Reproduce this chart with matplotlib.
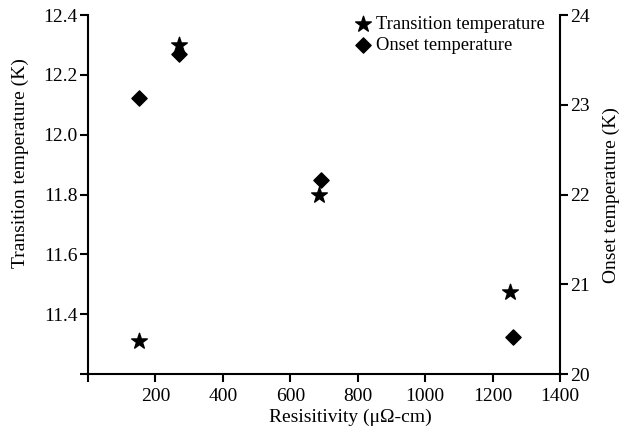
import matplotlib.pyplot as plt

plt.rcParams['font.family'] = ['Liberation Serif', 'DejaVu Serif']

# data
resist_tr = [150, 270, 685, 1250]
trans_temp = [11.31, 12.30, 11.80, 11.475]
resist_on = [150, 270, 690, 1260]
onset_temp = [23.08, 23.57, 22.16, 20.41]

x_ticks = [0, 200, 400, 600, 800, 1000, 1200, 1400]
x_labels = ['', '200', '400', '600', '800', '1000', '1200', '1400']
left_ticks = [11.2, 11.4, 11.6, 11.8, 12.0, 12.2, 12.4]
left_labels = ['', '11.4', '11.6', '11.8', '12.0', '12.2', '12.4']
right_ticks = [20, 21, 22, 23, 24]

fig = plt.figure(figsize=(6.19, 4.32), dpi=100)
ax = fig.add_axes([0.142, 0.134, 0.763, 0.831])
ax2 = ax.twinx()

s1 = ax.scatter(resist_tr, trans_temp, marker='*', s=140, color='black',
                label='Transition temperature', zorder=3)
s2 = ax2.scatter(resist_on, onset_temp, marker='D', s=60, color='black',
                 label='Onset temperature', zorder=3)

ax.set_xlim(0, 1400)
ax.set_ylim(11.2, 12.4)
ax2.set_ylim(20, 24)

ax.set_xticks(x_ticks)
ax.set_xticklabels(x_labels)
ax.set_yticks(left_ticks)
ax.set_yticklabels(left_labels)
ax2.set_yticks(right_ticks)

for a in (ax, ax2):
    a.spines['top'].set_visible(False)
    for sp in a.spines.values():
        sp.set_linewidth(1.5)
    a.tick_params(width=1.5, length=6, labelsize=14, direction='out', pad=1.5)
ax.tick_params(axis='x', pad=4)
ax.spines['right'].set_visible(False)
ax2.spines['left'].set_visible(False)
ax2.spines['bottom'].set_visible(False)

ax.set_xlabel('Resisitivity (μΩ-cm)', fontsize=14)
ax.xaxis.set_label_coords(0.555, -0.097)
ax.set_ylabel('Transition temperature (K)', fontsize=14)
ax.yaxis.set_label_coords(-0.124, 0.588)
ax2.set_ylabel('Onset temperature (K)', fontsize=14, labelpad=9)

ax2.legend(handles=[s1, s2], loc='upper right', bbox_to_anchor=(0.99, 1.028),
           frameon=False, fontsize=13.3, handletextpad=-0.3, labelspacing=0.2,
           borderaxespad=0.2)

fig.savefig('out.png', dpi=100)
